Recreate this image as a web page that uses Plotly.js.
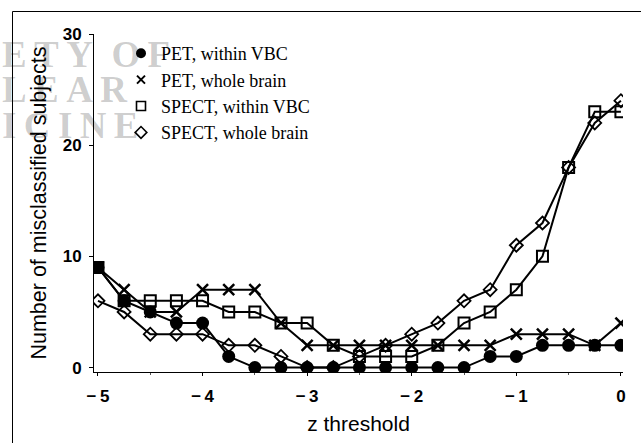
<!DOCTYPE html>
<html>
<head>
<meta charset="utf-8">
<script src="https://cdn.plot.ly/plotly-3.0.1.min.js"></script>
<style>
html,body{margin:0;padding:0;background:#fff;}
#chart{width:641px;height:443px;}
</style>
</head>
<body>
<div id="chart"></div>
<script>
// z threshold values
const zThreshold = [-5, -4.75, -4.5, -4.25, -4, -3.75, -3.5, -3.25, -3, -2.75, -2.5, -2.25, -2, -1.75, -1.5, -1.25, -1, -0.75, -0.5, -0.25, 0];
// number of misclassified subjects
const petWithinVBC   = [9, 6, 5, 4, 4, 1, 0, 0, 0, 0, 0, 0, 0, 0, 0, 1, 1, 2, 2, 2, 2];
const petWholeBrain  = [9, 7, 5, 5, 7, 7, 7, 4, 2, 2, 2, 2, 2, 2, 2, 2, 3, 3, 3, 2, 4];
const spectWithinVBC = [9, 6, 6, 6, 6, 5, 5, 4, 4, 2, 1, 1, 1, 2, 4, 5, 7, 10, 18, 23, 23];
const spectWholeBrain= [6, 5, 3, 3, 3, 2, 2, 1, 0, 0, 1, 2, 3, 4, 6, 7, 11, 13, 18, 22, 24];

const seriesNames = ["PET, within VBC", "PET, whole brain", "SPECT, within VBC", "SPECT, whole brain"];
const xTickVals = [-5, -4, -3, -2, -1, 0];
const xTickText = ["\u2212\u20095", "\u2212\u20094", "\u2212\u20093", "\u2212\u20092", "\u2212\u20091", "0"];
const yTickVals = [0, 10, 20, 30];
const watermarkLines = ["E\u2009T\u2009Y\u00a0\u00a0O\u2009F", "L\u2009E\u2009A\u2009R", "I\u2009C\u2009I\u2009N\u2009E"];

const lineStyle = {color: "#000", width: 2};

const plotMarkers = [
  {symbol: "circle", size: 13, color: "#000", line: {width: 0}},
  {symbol: "x-thin-open", size: 11, color: "#000", line: {width: 2.5, color: "#000"}},
  {symbol: "square-open", size: 11, color: "#000", line: {width: 2, color: "#000"}},
  {symbol: "diamond-open", size: 10, color: "#000", line: {width: 1.8, color: "#000"}}
];
const legendMarkers = [
  {symbol: "circle", size: 10, color: "#000", line: {width: 0}},
  {symbol: "x-thin-open", size: 8, color: "#000", line: {width: 2, color: "#000"}},
  {symbol: "square-open", size: 9, color: "#000", line: {width: 1.6, color: "#000"}},
  {symbol: "diamond-open", size: 9, color: "#000", line: {width: 1.6, color: "#000"}}
];
const allSeries = [petWithinVBC, petWholeBrain, spectWithinVBC, spectWholeBrain];

const traces = [];
[3, 2, 1, 0].forEach(i => {
  traces.push({
    x: zThreshold, y: allSeries[i], type: "scatter", mode: "lines+markers",
    line: lineStyle, marker: plotMarkers[i], showlegend: false, name: seriesNames[i]
  });
});
[0, 1, 2, 3].forEach(i => {
  traces.push({
    x: [null], y: [null], type: "scatter", mode: "markers",
    marker: legendMarkers[i], name: seriesNames[i], showlegend: true
  });
});

// plot area in px
const L = 94, R = 623, T = 34, B = 372;
const px2x = p => (p - L) / (R - L);
const py2y = p => (B - p) / (B - T);

const watermarkY = [55, 90, 125];
const watermark = watermarkLines.map((t, i) => ({
  text: t, xref: "paper", yref: "paper", x: px2x(0), y: py2y(watermarkY[i]),
  xanchor: "left", yanchor: "middle", showarrow: false,
  font: {family: "Liberation Serif", size: 37, weight: "bold", color: "rgba(0,0,0,0.2)"}
}));

const layout = {
  width: 641, height: 443,
  margin: {l: L, r: 641 - R, t: T, b: 443 - B, pad: 0},
  paper_bgcolor: "#fff", plot_bgcolor: "#fff",
  font: {family: "Liberation Sans", color: "#000"},
  showlegend: true,
  legend: {
    x: px2x(121), y: py2y(35), xanchor: "left", yanchor: "top",
    bgcolor: "rgba(0,0,0,0)", borderwidth: 0,
    font: {family: "Liberation Serif", size: 18, color: "#000"},
    tracegroupgap: 0, itemwidth: 30
  },
  xaxis: {
    range: [-5.038, 0.02], showgrid: false, zeroline: false,
    showline: true, linecolor: "#000", linewidth: 1,
    tickvals: xTickVals, ticktext: xTickText,
    ticks: "outside", ticklen: 3, tickcolor: "#000", tickwidth: 1,
    ticklabelstandoff: 6,
    minor: {dtick: 0.5, tick0: 0, ticks: "outside", ticklen: 2, tickcolor: "#555"},
    tickfont: {family: "Liberation Sans", size: 17, weight: "bold", color: "#000"},
    title: {text: "z threshold", font: {family: "Liberation Sans", size: 21, color: "#000"}, standoff: 10},
    automargin: false
  },
  yaxis: {
    range: [-0.4, 30], showgrid: false, zeroline: false,
    showline: true, linecolor: "#000", linewidth: 1,
    tickvals: yTickVals, ticks: "outside", ticklen: 4, tickcolor: "#000",
    ticklabelstandoff: 4,
    tickfont: {family: "Liberation Sans", size: 17, weight: "bold", color: "#000"},
    title: {text: "Number of misclassified subjects", font: {family: "Liberation Sans", size: 21.5, color: "#000"}, standoff: 10},
    automargin: false
  },
  shapes: [{
    type: "rect", xref: "paper", yref: "paper",
    x0: px2x(12.5), x1: px2x(700), y0: py2y(500), y1: py2y(11.5),
    line: {color: "#000", width: 1}, fillcolor: "rgba(0,0,0,0)", layer: "below"
  }],
  annotations: watermark
};

Plotly.newPlot("chart", traces, layout, {staticPlot: true, displayModeBar: false});
</script>
</body>
</html>
